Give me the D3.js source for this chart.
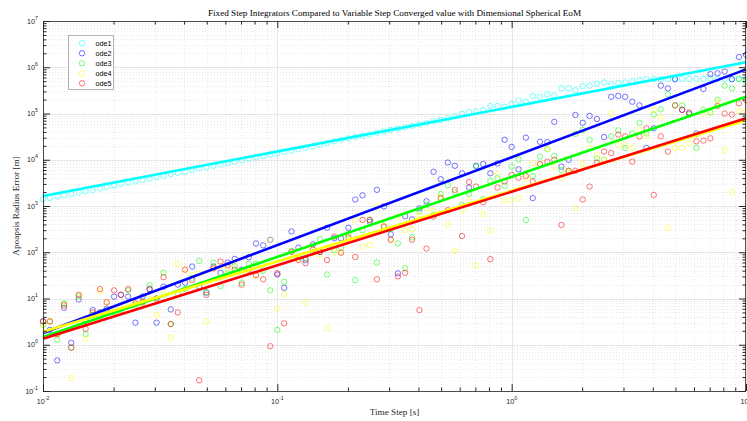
<!DOCTYPE html>
<html><head><meta charset="utf-8">
<script src="https://cdn.jsdelivr.net/npm/d3@7"></script>
<style>body{margin:0;background:#fff;}svg{display:block;}</style>
</head><body><svg id="chart" width="747" height="421"></svg>
<script>
// ---------- data ----------
const timeSteps = [
0.0100,0.0107,0.0115,0.0123,0.0132,0.0142,0.0152,0.0163,0.0175,0.0187,0.0201,0.0215,0.0231,0.0248,0.0266,0.0285,0.0305,0.0327,0.0351,0.0376,0.0404,0.0433,0.0464,0.0498,0.0534,0.0572,0.0614,0.0658,0.0705,0.0756,0.0811,0.0870,0.0933,
0.100,0.107,0.115,0.123,0.132,0.142,0.152,0.163,0.175,0.187,0.201,0.215,0.231,0.248,0.266,0.285,0.305,0.327,0.351,0.376,0.404,0.433,0.464,0.498,0.534,0.572,0.614,0.658,0.705,0.756,0.811,0.870,0.933,
1.00,1.07,1.15,1.23,1.32,1.42,1.52,1.63,1.75,1.87,2.01,2.15,2.31,2.48,2.66,2.85,3.05,3.27,3.51,3.76,4.04,4.33,4.64,4.98,5.34,5.72,6.14,6.58,7.05,7.56,8.11,8.70,9.33,10.0];

const ode1 = [
1.4e3,1.5e3,1.6e3,1.7e3,1.8e3,1.95e3,2.1e3,2.2e3,2.4e3,2.6e3,2.8e3,3.0e3,3.2e3,3.4e3,3.6e3,3.9e3,4.2e3,4.5e3,4.9e3,5.2e3,
5.6e3,6.0e3,6.5e3,6.9e3,7.4e3,7.9e3,8.5e3,9.1e3,9.8e3,1.05e4,1.12e4,1.2e4,1.29e4,1.38e4,1.48e4,1.58e4,1.7e4,1.82e4,1.95e4,2.1e4,
2.3e4,2.5e4,2.7e4,2.9e4,3.1e4,3.3e4,3.5e4,3.8e4,4.1e4,4.4e4,4.7e4,5.0e4,5.4e4,5.8e4,6.2e4,6.8e4,7.2e4,7.9e4,8.7e4,9.8e4,
1.07e5,1.1e5,1.2e5,1.45e5,1.45e5,1.4e5,1.6e5,1.9e5,1.8e5,2.4e5,2.3e5,2.6e5,2.45e5,3.5e5,3.5e5,3.2e5,3.9e5,4.0e5,4.4e5,4.7e5,
4.3e5,4.6e5,4.7e5,5.0e5,5.2e5,5.6e5,5.6e5,5.5e5,5.6e5,5.6e5,5.6e5,5.6e5,5.6e5,5.6e5,5.8e5,5.6e5,5.6e5,5.6e5,5.6e5,5.6e5];

const ode2 = [
3.2,2.1,0.46,6.3,1.1,9.5,3.3,5.6,5.0,6.0,11,12,11,3.0,11,16,3.0,18,5.8,20,
22,49,18,13.5,49,36,60,72,42,78,155,141,186,33,17,282,126,68,148,102,
339,200,200,339,1380,1700,457,2240,977,245,35,603,513,891,1260,5500,3800,8700,7400,5100,
2500,7400,8100,5100,8300,2.7e4,1.9e4,6200,3.0e4,1480,2.45e4,2.4e4,6.6e4,7100,1.0e4,9.3e4,6.3e4,8.9e4,7.6e4,3.1e4,
2.3e5,2.4e5,2.3e5,1.8e5,1.5e5,1.8e4,4.8e4,4.0e5,3.5e5,5.5e5,1.2e5,1.0e5,3.7e4,3.4e5,7.1e5,7.4e5,8.1e5,5.5e5,1.66e6,1.86e6];

const ode3 = [
2.7,3.2,1.3,7.9,0.87,11,1.7,4.4,4.0,5.6,5.0,5.6,15,7.1,7.9,19.5,10,36,2.8,12.6,
16,28,65,13.5,60,18.6,35,50,22,56,56,40,15,2.1,23,107,79,74,100,191,
33,112,126,245,25,295,501,60,372,316,155,45,209,759,1050,646,1820,2820,2000,1050,
1820,7100,1410,3470,3980,2750,7100,1.02e4,500,4470,1.17e4,1.7e4,1.2e4,6000,5750,3.6e4,4.4e4,2.7e4,1.07e4,1.0e4,
3.2e4,4.3e4,1.8e4,3.7e4,6.3e4,3.7e4,9.5e4,1.23e5,2.6e5,1.5e5,1.5e5,9.5e4,1.8e4,1.2e5,1.05e5,2.0e5,4.0e5,3.5e5,5.6e5,4.9e5];

const ode4 = [
2.7,3.2,1.7,7.2,0.19,12,1.35,5.0,14.5,8.3,5.6,6.3,7.1,7.6,8.5,10,4.4,12.6,1.45,56,
42,32,35,3.2,45,50,45,62,35,42,31,45,182,6.0,12.3,71,71,8.5,115,89,
2.3,100,98,200,500,132,145,977,372,186,589,295,316,631,891,794,1580,389,107,813,
1260,52,661,295,4900,1320,1350,1480,3980,8300,7900,1.7e4,7100,3980,5600,912,8100,1.8e4,1.3e4,1.0e4,
1.0e5,2.1e4,2.1e4,1.8e4,4.4e4,3.2e4,1.2e5,8.1e4,331,1.8e4,1.8e4,2.3e4,3.5e4,1.0e5,1.1e5,1.8e5,1.6e4,2000,1.1e5,1.15e5];

const ode5 = [
3.2,3.2,1.7,7.2,0.87,12,2.2,5.0,16,8.3,15,12,16,7.9,8.5,16,10,29,2.8,5.0,
42,25,0.17,12,45,63,52,42,20,42,32,26,0.93,35,2.9,102,68,58,115,102,
68,219,98,209,79,501,501,26,355,186,30,36,186,5.6,120,589,1480,813,2240,224,
3310,2630,1200,71,2510,3390,4680,4070,4470,3390,8100,9100,1.0e4,389,5750,5750,1380,2630,8700,1.5e4,
1.4e4,3.5e4,3.2e4,9100,3.2e4,4.8e4,1740,3.2e4,1.5e4,1.5e5,1.2e5,1.05e5,2.5e4,2.6e4,2.9e4,1.45e5,1.0e5,9.5e4,1.66e5,1.95e5];

const seriesNames  = ["ode1","ode2","ode3","ode4","ode5"];
const seriesColors = ["#00ffff","#0000ff","#00ff00","#ffff00","#ff0000"];
const fitRange = [0.01, 10];
const fitStart = [1640, 1.8, 1.47, 1.9, 1.35];
const fitEnd   = [1.28e6, 9.0e5, 2.3e5, 7.1e4, 7.9e4];

const xTickExps = ["-2","-1","0","1"];
const yTickExps = ["-1","0","1","2","3","4","5","6","7"];

const titleText = "Fixed Step Integrators Compared to Variable Step Converged value with Dimensional Spherical EoM";
const xLabelText = "Time Step [s]";
const yLabelText = "Apoapsis Radius Error [m]";

// ---------- layout ----------
const L = 43, R = 746, T = 21, B = 391;
const svg = d3.select("#chart");
const x = d3.scaleLog().domain([0.01, 10]).range([L, R]);
const y = d3.scaleLog().domain([0.1, 1e7]).range([B, T]);

const xMajor = xTickExps.map(e => Math.pow(10, +e));
const yMajor = yTickExps.map(e => Math.pow(10, +e));
const minorOf = majors => {
  const out = [];
  for (let k = 0; k < majors.length - 1; k++) for (let m = 2; m <= 9; m++) out.push(majors[k] * m);
  return out;
};
const xMinor = minorOf(xMajor), yMinor = minorOf(yMajor);

// grid
const grid = svg.append("g");
grid.selectAll(".xm").data(xMinor).join("line")
  .attr("x1", d => Math.round(x(d)) + 0.5).attr("x2", d => Math.round(x(d)) + 0.5)
  .attr("y1", T).attr("y2", B).attr("stroke", "#e2e2e2").attr("stroke-dasharray", "1,2").attr("stroke-width", 0.8);
grid.selectAll(".ym").data(yMinor).join("line")
  .attr("y1", d => Math.round(y(d)) + 0.5).attr("y2", d => Math.round(y(d)) + 0.5)
  .attr("x1", L).attr("x2", R).attr("stroke", "#e2e2e2").attr("stroke-dasharray", "1,2").attr("stroke-width", 0.8);
grid.selectAll(".xM").data(xMajor).join("line")
  .attr("x1", d => Math.round(x(d)) + 0.5).attr("x2", d => Math.round(x(d)) + 0.5)
  .attr("y1", T).attr("y2", B).attr("stroke", "#e6e6e6").attr("stroke-width", 1);
grid.selectAll(".yM").data(yMajor).join("line")
  .attr("y1", d => Math.round(y(d)) + 0.5).attr("y2", d => Math.round(y(d)) + 0.5)
  .attr("x1", L).attr("x2", R).attr("stroke", "#e6e6e6").attr("stroke-width", 1);

// points
const series = [ode1, ode2, ode3, ode4, ode5];
const pts = svg.append("g");
series.forEach((vals, s) => {
  pts.append("g").selectAll("circle").data(vals.map((v, i) => [timeSteps[i], v])).join("circle")
    .attr("cx", d => x(d[0])).attr("cy", d => y(d[1])).attr("r", 2.7)
    .attr("fill", "none").attr("stroke", seriesColors[s]).attr("stroke-opacity", 0.6).attr("stroke-width", 0.9);
});

// fit lines
const lineGen = d3.line().x(d => x(d[0])).y(d => y(d[1]));
series.forEach((_, s) => {
  svg.append("path").datum([[fitRange[0], fitStart[s]], [fitRange[1], fitEnd[s]]])
    .attr("d", lineGen).attr("fill", "none").attr("stroke", seriesColors[s]).attr("stroke-width", 2.6);
});

// axes (ticks inward on all four sides)
const axCol = "#262626";
function styleAxis(g) {
  g.select(".domain").remove();
  g.selectAll(".tick line").attr("stroke", axCol);
  g.selectAll(".tick text").remove();
}
svg.append("g").attr("transform", `translate(0,${B})`).call(d3.axisBottom(x).tickValues(xMajor).tickSize(-7)).call(styleAxis);
svg.append("g").attr("transform", `translate(0,${B})`).call(d3.axisBottom(x).tickValues(xMinor).tickSize(-3.5)).call(styleAxis);
svg.append("g").attr("transform", `translate(0,${T})`).call(d3.axisTop(x).tickValues(xMajor).tickSize(-7)).call(styleAxis);
svg.append("g").attr("transform", `translate(0,${T})`).call(d3.axisTop(x).tickValues(xMinor).tickSize(-3.5)).call(styleAxis);
svg.append("g").attr("transform", `translate(${L},0)`).call(d3.axisLeft(y).tickValues(yMajor).tickSize(-7)).call(styleAxis);
svg.append("g").attr("transform", `translate(${L},0)`).call(d3.axisLeft(y).tickValues(yMinor).tickSize(-3.5)).call(styleAxis);
svg.append("g").attr("transform", `translate(${R},0)`).call(d3.axisRight(y).tickValues(yMajor).tickSize(-7)).call(styleAxis);
svg.append("g").attr("transform", `translate(${R},0)`).call(d3.axisRight(y).tickValues(yMinor).tickSize(-3.5)).call(styleAxis);
svg.append("rect").attr("x", L + 0.5).attr("y", T + 0.5).attr("width", R - L - 1).attr("height", B - T)
  .attr("fill", "none").attr("stroke", axCol).attr("stroke-width", 0.8);

// tick labels
const tickFont = "'Liberation Sans', Arial, sans-serif";
function powLabel(sel, exp) {
  sel.append("tspan").text("10");
  sel.append("tspan").attr("dy", -4).attr("font-size", 5.2).text(exp);
}
xTickExps.forEach((e, k) => {
  svg.append("text").attr("x", x(xMajor[k])).attr("y", 404).attr("text-anchor", "middle")
    .attr("font-family", tickFont).attr("font-size", 7.2).attr("fill", "#262626").call(powLabel, e);
});
yTickExps.forEach((e, k) => {
  svg.append("text").attr("x", 38).attr("y", y(yMajor[k]) + 2.5).attr("text-anchor", "end")
    .attr("font-family", tickFont).attr("font-size", 7.2).attr("fill", "#262626").call(powLabel, e);
});

// title and axis labels
const serif = "'Liberation Serif', 'DejaVu Serif', serif";
svg.append("text").attr("x", (L + R) / 2).attr("y", 16).attr("text-anchor", "middle")
  .attr("font-family", serif).attr("font-size", 9.2).attr("fill", "#000").text(titleText);
svg.append("text").attr("x", (L + R) / 2).attr("y", 415).attr("text-anchor", "middle")
  .attr("font-family", serif).attr("font-size", 9.2).attr("fill", "#262626").text(xLabelText);
svg.append("text").attr("transform", `translate(19,${(T + B) / 2}) rotate(-90)`).attr("text-anchor", "middle")
  .attr("font-family", serif).attr("font-size", 9.2).attr("fill", "#262626").text(yLabelText);

// legend
const leg = svg.append("g");
leg.append("rect").attr("x", 68.5).attr("y", 35.5).attr("width", 45).attr("height", 54)
  .attr("fill", "#fff").attr("stroke", "#a0a0a0").attr("stroke-width", 0.8);
seriesNames.forEach((n, s) => {
  const yy = 43.3 + s * 10;
  leg.append("circle").attr("cx", 82).attr("cy", yy).attr("r", 2.7).attr("fill", "none")
    .attr("stroke", seriesColors[s]).attr("stroke-opacity", 0.6).attr("stroke-width", 0.9);
  leg.append("text").attr("x", 95.5).attr("y", yy + 2.5).attr("font-family", tickFont)
    .attr("font-size", 7.2).attr("fill", "#000").text(n);
});
</script></body></html>
